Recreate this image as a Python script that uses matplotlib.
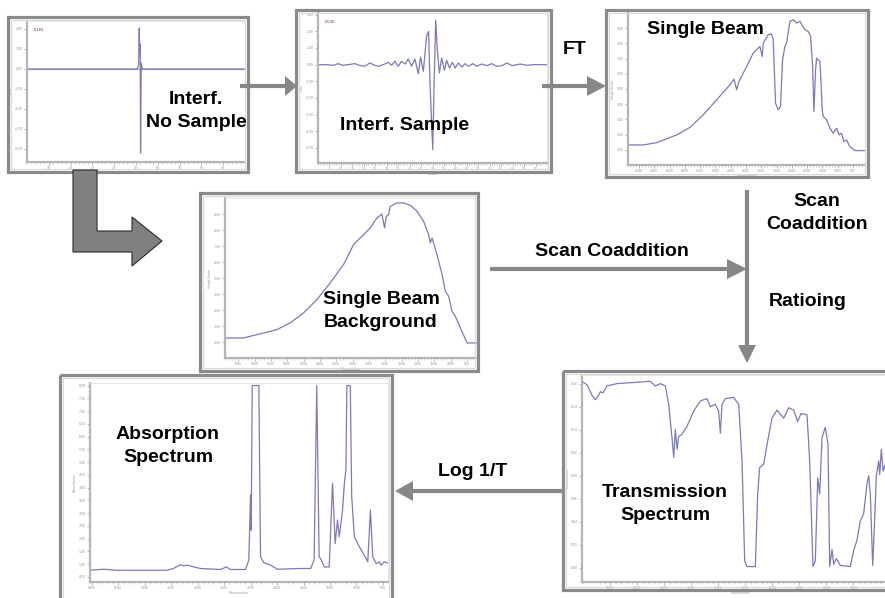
import matplotlib
matplotlib.use("Agg")
from matplotlib import pyplot as plt
from matplotlib.patches import Polygon, Rectangle
from matplotlib.ticker import AutoMinorLocator

plt.rcParams['font.family'] = ['Liberation Sans', 'DejaVu Sans']

W, H = 885, 598

# interferogram without sample (points index, detector signal)
bkg_interf_x = [0, 50.5, 51.2, 51.5, 51.7, 51.9, 52.1, 52.4, 52.8, 100]
bkg_interf_y = [0, 0, 0.4, 4.1, 1.5, 2.5, -8.4, 0.6, 0, 0]

# interferogram with sample
smp_interf_x = [0, 3.6, 6.6, 8.8, 10.9, 13.1, 16.1, 18.2, 20.4, 22.6, 24.8, 26.3, 28.5,
                30.7, 32.1, 33.6, 35.0, 36.5, 38.0, 39.4, 40.9, 42.3, 43.8, 44.8, 46.0,
                47.4, 48.3, 48.9, 50.1, 50.7, 51.4, 52.1, 53.0, 54.0, 55.2, 56.2, 57.4,
                58.7, 59.9, 61.3, 62.8, 64.2, 65.7, 67.6, 69.3, 71.5, 73.7, 75.9, 78.1,
                80.3, 82.5, 84.7, 88.3, 91.2, 94.2, 100]
smp_interf_y = [0, 0, -0.04, 0.06, -0.04, 0, 0.06, -0.04, -0.1, 0.1, -0.04, -0.1, 0,
                0.14, -0.04, 0.2, -0.1, 0.2, 0.04, 0.34, -0.1, 0.34, -0.54, 0.46, -0.4,
                1.7, 2.0, -1.1, -5.1, -1.1, 2.66, 0.9, -0.5, 0.4, -0.34, 0.26, -0.2,
                0.14, -0.2, 0.1, -0.14, 0.06, -0.1, 0.06, -0.1, 0.04, -0.06, 0.06, -0.1,
                -0.06, 0.1, -0.06, 0.04, -0.04, 0, 0]

# single beam spectrum of the sample
sb_wn = [7850, 7360, 6920, 6270, 5830, 5400, 4960, 4530, 4395, 4307, 4232, 3981, 3765,
         3546, 3471, 3438, 3275, 3166, 3111, 3035, 2948, 2872, 2806, 2729, 2675, 2565,
         2457, 2347, 2239, 2075, 1967, 1888, 1823, 1781, 1726, 1693, 1585, 1552, 1509,
         1476, 1366, 1258, 1150, 1040, 955, 878, 802, 715, 605, 442, 115]
sb_int = [1.32, 1.32, 1.47, 1.98, 2.48, 3.30, 4.29, 5.27, 5.65, 4.95, 5.49, 6.48, 7.36,
          7.80, 7.14, 8.02, 8.57, 8.62, 8.24, 4.07, 3.63, 3.85, 6.92, 7.80, 8.02, 9.45,
          9.56, 9.34, 9.45, 8.90, 8.79, 8.46, 6.48, 3.52, 6.26, 7.03, 6.81, 5.60, 3.63,
          3.19, 2.97, 2.42, 2.09, 2.42, 1.98, 2.09, 1.54, 1.65, 1.21, 0.95, 0.95]

# single beam background spectrum
bg_wn = [7908, 7347, 6733, 6322, 5914, 5506, 5095, 4688, 4279, 3973, 3820, 3666, 3461,
         3256, 3102, 3022, 2970, 2899, 2847, 2642, 2440, 2234, 2028, 1825, 1672, 1620,
         1567, 1415, 1260, 1160, 1057, 954, 853, 700, 495, 190]
bg_int = [1.25, 1.25, 1.56, 1.77, 2.19, 2.81, 3.65, 4.69, 5.83, 7.08, 7.40, 7.71, 8.13,
          8.75, 9.00, 8.13, 8.85, 8.96, 9.48, 9.69, 9.69, 9.54, 9.17, 8.54, 7.71, 7.19,
          7.50, 6.46, 5.21, 4.17, 3.85, 2.92, 2.60, 1.88, 0.94, 0.94]

# transmission spectrum
tr_wn = [6025, 5932, 5840, 5778, 5716, 5685, 5636, 5562, 5377, 5068, 4759, 4667, 4574,
         4481, 4420, 4358, 4327, 4296, 4265, 4235, 4173, 4080, 3957, 3833, 3710, 3648,
         3556, 3494, 3463, 3432, 3370, 3216, 3123, 3062, 3012, 2969, 2815, 2772, 2735,
         2660, 2599, 2506, 2414, 2290, 2198, 2105, 2031, 1969, 1858, 1809, 1747, 1704,
         1660, 1623, 1580, 1519, 1469, 1438, 1395, 1364, 1315, 1241, 1056, 994, 932,
         870, 809, 747, 716, 685, 642, 611, 574, 531, 512, 481, 450, 407]
tr_val = [0.162, 0.159, 0.150, 0.146, 0.150, 0.153, 0.152, 0.158, 0.160, 0.161, 0.162,
          0.158, 0.160, 0.158, 0.142, 0.113, 0.096, 0.120, 0.103, 0.114, 0.116, 0.123,
          0.136, 0.145, 0.147, 0.140, 0.142, 0.136, 0.117, 0.142, 0.147, 0.148, 0.142,
          0.093, 0.006, 0.001, 0.001, 0.064, 0.087, 0.090, 0.107, 0.130, 0.137, 0.130,
          0.139, 0.137, 0.127, 0.134, 0.133, 0.093, 0.001, 0.006, 0.078, 0.064, 0.113,
          0.122, 0.107, 0.001, 0.016, 0.003, 0.008, 0.002, 0.001, 0.015, 0.024, 0.041,
          0.047, 0.073, 0.080, 0.064, 0.002, 0.035, 0.080, 0.093, 0.081, 0.103, 0.084,
          0.090]

# absorbance spectrum
ab_wn = [6030, 5778, 5525, 4578, 4453, 4326, 4263, 4200, 3947, 3568, 3455, 3379, 3095,
         3032, 3000, 2987, 2968, 2843, 2811, 2748, 2621, 2494, 2053, 1864, 1800, 1750,
         1705, 1661, 1610, 1515, 1452, 1402, 1358, 1326, 1263, 1231, 1200, 1181, 1117,
         1090, 1040, 945, 818, 787, 737, 693, 629, 568, 538, 473, 380]
ab_val = [0.76, 0.80, 0.76, 0.76, 0.83, 0.98, 0.93, 0.96, 0.83, 0.79, 0.89, 0.79, 0.79,
          1.16, 3.71, 2.33, 8.00, 8.00, 1.29, 1.05, 0.96, 0.80, 0.83, 0.83, 1.16, 8.00,
          1.29, 1.16, 0.89, 0.89, 4.17, 1.81, 2.73, 2.07, 3.12, 4.10, 4.69, 8.00, 8.00,
          3.65, 2.07, 1.68, 1.22, 1.09, 3.12, 1.29, 1.02, 1.09, 0.96, 1.09, 1.02]

wn_ticks = [7500, 7000, 6500, 6000, 5500, 5000, 4500, 4000, 3500, 3000, 2500, 2000,
            1500, 1000, 500]

line_c = '#7a7abd'
frame_c = '#8a8a8a'
arrow_c = '#878787'

fig = plt.figure(figsize=(W / 100, H / 100), dpi=100, facecolor='white')


def mini_axes(box, xlim, ylim, xticks, yticks, xlabel, ylabel, fmt='{:g}'):
    x0, y0, x1, y1 = box
    ax = fig.add_axes([x0 / W, 1 - y1 / H, (x1 - x0) / W, (y1 - y0) / H])
    ax.set_xlim(xlim)
    ax.set_ylim(ylim)
    for s in ['top', 'right']:
        ax.spines[s].set_color('#e2e2e2')
        ax.spines[s].set_linewidth(0.6)
    for s in ['left', 'bottom']:
        ax.spines[s].set_color('#b5b5b5')
        ax.spines[s].set_linewidth(1.6)
    ax.set_xticks(xticks)
    ax.set_xticklabels([fmt.format(t) for t in xticks])
    ax.set_yticks(yticks)
    ax.set_yticklabels(['{:.2f}'.format(t) for t in yticks])
    ax.xaxis.set_minor_locator(AutoMinorLocator(5))
    ax.tick_params(labelsize=2.6, colors='#9a9a9a', length=2, width=0.5, pad=1)
    ax.tick_params(which='minor', length=1.2, width=0.4, colors='#b0b0b0')
    ax.set_xlabel(xlabel, fontsize=2.4, color='#9a9a9a', labelpad=0.5)
    ax.set_ylabel(ylabel, fontsize=2.4, color='#9a9a9a', labelpad=1)
    return ax


# interferograms
ax1 = mini_axes((27, 21, 245, 162), (0, 100), (-9.3, 4.8), range(10, 100, 10),
                [-8, -6, -4, -2, 0, 2, 4], 'Points', 'Volts')
ax1.axhline(0, color='#a8a8a8', lw=0.9)
ax1.plot(bkg_interf_x, bkg_interf_y, color=line_c, lw=0.9)
ax1.text(0.03, 0.95, '5.183', transform=ax1.transAxes, fontsize=3, color='#703030', va='top')

ax2 = mini_axes((318, 13, 547, 163), (0, 100), (-5.9, 3.1), range(5, 100, 5),
                [-5, -4, -3, -2, -1, 0, 1, 2, 3], 'Points', 'Volts')
ax2.plot(smp_interf_x, smp_interf_y, color=line_c, lw=0.9)
ax2.text(0.03, 0.95, '0.535', transform=ax2.transAxes, fontsize=3, color='#703030', va='top')

# single beam spectra
ax3 = mini_axes((628, 13, 865, 165), (7860, 110), (0, 10), wn_ticks,
                [1, 2, 3, 4, 5, 6, 7, 8, 9], 'Wavenumber', 'Single Beam')
ax3.plot(sb_wn, sb_int, color=line_c, lw=0.9)

ax4 = mini_axes((225, 198, 477, 358), (7908, 190), (0, 10), wn_ticks,
                [1, 2, 3, 4, 5, 6, 7, 8, 9], 'Wavenumber', 'Single Beam')
ax4.plot(bg_wn, bg_int, color=line_c, lw=0.9)

# absorbance
ax5 = mini_axes((90, 383, 388, 582), (6030, 405), (0.3, 8.1), wn_ticks[3:],
                [0.5 * i for i in range(1, 17)], 'Wavenumber', 'Absorbance')
ax5.plot(ab_wn, ab_val, color=line_c, lw=0.9)

# transmission (runs past the right edge of the figure)
ax6 = mini_axes((582, 375, 900, 582), (6025, 136), (-0.0124, 0.1675), wn_ticks[4:-1],
                [0.02 * i for i in range(9)], 'Wavenumber', 'Transmittance')
ax6.plot(tr_wn, tr_val, color=line_c, lw=0.9)

# overlay for frames, arrows and captions
ov = fig.add_axes([0, 0, 1, 1])
ov.set_xlim(0, W)
ov.set_ylim(H, 0)
ov.axis('off')
ov.set_zorder(10)

frames = [(8, 17, 248, 172), (296, 10, 551, 172), (606, 10, 868, 177),
          (200, 193, 478, 371), (60, 375, 392, 602), (563, 371, 895, 590)]
for x0, y0, x1, y1 in frames:
    ov.add_patch(Rectangle((x0 + 3, y0 + 3), x1 - x0 - 6, y1 - y0 - 6, fill=False,
                           ec='#dadada', lw=0.8))
    ov.add_patch(Rectangle((x0, y0), x1 - x0, y1 - y0, fill=False, ec=frame_c, lw=2.3))


def arrow(x0, y0, x1, y1, head_len, half_w):
    if y0 == y1:
        d = 1 if x1 > x0 else -1
        bx = x1 - d * head_len
        ov.plot([x0, bx], [y0, y0], color=arrow_c, lw=3, solid_capstyle='butt')
        head = [(bx, y1 - half_w), (x1, y1), (bx, y1 + half_w)]
    else:
        d = 1 if y1 > y0 else -1
        by = y1 - d * head_len
        ov.plot([x0, x0], [y0, by], color=arrow_c, lw=3, solid_capstyle='butt')
        head = [(x1 - half_w, by), (x1, y1), (x1 + half_w, by)]
    ov.add_patch(Polygon(head, closed=True, fc=arrow_c, ec='none'))


arrow(240, 86, 297, 86, 12, 10)
arrow(542, 86, 606, 86, 19, 10)
arrow(747, 190, 747, 363, 18, 9)
arrow(490, 269, 747, 269, 20, 10)
arrow(562, 491, 395, 491, 18, 10)

# fat L-shaped arrow to the background beam
ov.add_patch(Polygon([(73, 170), (97, 170), (97, 231), (132, 231), (132, 217), (162, 241),
                      (132, 266), (132, 252), (73, 252)], closed=True,
                     fc='#808080', ec='#2a2a2a', lw=0.8))

lab = dict(fontsize=14, fontweight='bold', color='black', ha='center', va='center',
           linespacing=1.4)
ov.text(196, 111, 'Interf.\nNo Sample', **lab)
ov.text(405, 125, 'Interf. Sample', **lab)
ov.text(705, 30, 'Single Beam', **lab)
ov.text(575, 50, 'FT', **lab)
ov.text(381, 311, 'Single Beam\nBackground', **lab)
ov.text(612, 251, 'Scan Coaddition', **lab)
ov.text(817, 213, 'Scan\nCoaddition', **lab)
ov.text(808, 302, 'Ratioing', **lab)
ov.text(473, 472, 'Log 1/T', **lab)
ov.text(168, 446, 'Absorption\nSpectrum', **lab)
ov.text(665, 504, 'Transmission\nSpectrum', **lab)

fig.savefig('out.png', dpi=100, facecolor='white')
